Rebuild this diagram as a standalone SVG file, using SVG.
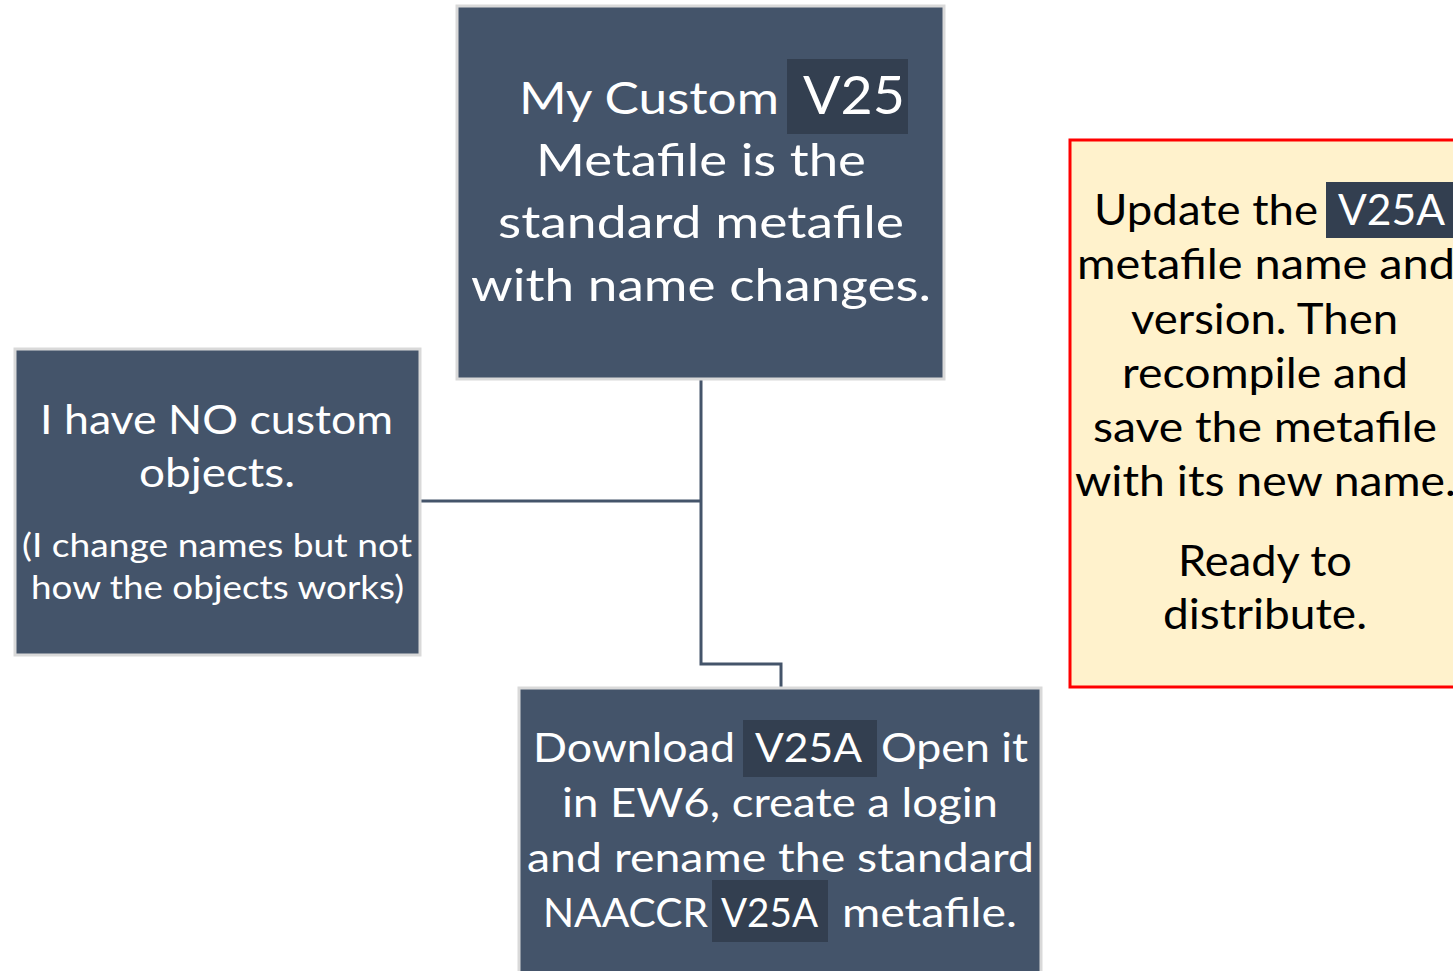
<svg xmlns="http://www.w3.org/2000/svg" width="1453" height="971" viewBox="0 0 1453 971">
<style>
.node{fill:#44546A;stroke:#D9D9D9;stroke-width:3}
.note{fill:#FFF2CC;stroke:#FF0000;stroke-width:3}
.hl{fill:#333F50}
.t{font-family:Lato,"Open Sans","Liberation Sans",sans-serif;fill:#FFFFFF}
.k{font-family:Lato,"Open Sans","Liberation Sans",sans-serif;fill:#000000}
.conn{fill:none;stroke:#44546A;stroke-width:3}
</style>
<rect width="1453" height="971" fill="#FFFFFF"/>
<g id="connectors">
<path class="conn" d="M701,380 V664 H781 V688"/>
<path class="conn" d="M421,501 H701"/>
</g>
<g id="node-top">
<rect class="node" x="457" y="6" width="487" height="373"/>
<rect class="hl" x="787" y="59" width="121" height="75"/>
<text class="t" x="519" y="114" font-size="44" textLength="260" lengthAdjust="spacingAndGlyphs">My Custom</text>
<text class="t" x="803" y="114" font-size="52" textLength="102" lengthAdjust="spacingAndGlyphs">V25</text>
<text class="t" x="536" y="176" font-size="44" textLength="330" lengthAdjust="spacingAndGlyphs">Metafile is the</text>
<text class="t" x="498" y="238" font-size="44" textLength="406" lengthAdjust="spacingAndGlyphs">standard metafile</text>
<text class="t" x="471" y="301" font-size="44" textLength="460" lengthAdjust="spacingAndGlyphs">with name changes.</text>
</g>
<g id="node-left">
<rect class="node" x="15" y="349" width="405" height="306"/>
<text class="t" x="40" y="434" font-size="41" textLength="353" lengthAdjust="spacingAndGlyphs">I have NO custom</text>
<text class="t" x="139" y="487" font-size="41" textLength="156" lengthAdjust="spacingAndGlyphs">objects.</text>
<text class="t" x="22" y="557" font-size="32" textLength="390" lengthAdjust="spacingAndGlyphs">(I change names but not</text>
<text class="t" x="31" y="599" font-size="32" textLength="373" lengthAdjust="spacingAndGlyphs">how the objects works)</text>
</g>
<g id="node-bottom">
<rect class="node" x="519" y="688" width="522" height="300"/>
<rect class="hl" x="743" y="720" width="134" height="57"/>
<rect class="hl" x="712" y="880" width="116" height="62"/>
<text class="t" x="533" y="762" font-size="41" textLength="202" lengthAdjust="spacingAndGlyphs">Download</text>
<text class="t" x="755" y="762" font-size="41" textLength="107" lengthAdjust="spacingAndGlyphs">V25A</text>
<text class="t" x="881" y="762" font-size="41" textLength="147" lengthAdjust="spacingAndGlyphs">Open it</text>
<text class="t" x="562" y="817" font-size="41" textLength="436" lengthAdjust="spacingAndGlyphs">in EW6, create a login</text>
<text class="t" x="527" y="872" font-size="41" textLength="507" lengthAdjust="spacingAndGlyphs">and rename the standard</text>
<text class="t" x="543" y="927" font-size="41" textLength="165" lengthAdjust="spacingAndGlyphs">NAACCR</text>
<text class="t" x="721" y="927" font-size="41" textLength="97" lengthAdjust="spacingAndGlyphs">V25A</text>
<text class="t" x="842" y="927" font-size="41" textLength="175" lengthAdjust="spacingAndGlyphs">metafile.</text>
</g>
<g id="node-right">
<rect class="note" x="1070" y="140" width="400" height="547"/>
<rect class="hl" x="1326" y="182" width="127" height="56"/>
<text class="k" x="1094" y="225" font-size="42" textLength="224" lengthAdjust="spacingAndGlyphs">Update the</text>
<text class="t" x="1338" y="225" font-size="42" textLength="107" lengthAdjust="spacingAndGlyphs">V25A</text>
<text class="k" x="1077" y="279" font-size="42" textLength="378" lengthAdjust="spacingAndGlyphs">metafile name and</text>
<text class="k" x="1131" y="334" font-size="42" textLength="267" lengthAdjust="spacingAndGlyphs">version. Then</text>
<text class="k" x="1122" y="388" font-size="42" textLength="286" lengthAdjust="spacingAndGlyphs">recompile and</text>
<text class="k" x="1093" y="442" font-size="42" textLength="344" lengthAdjust="spacingAndGlyphs">save the metafile</text>
<text class="k" x="1075" y="496" font-size="42" textLength="381" lengthAdjust="spacingAndGlyphs">with its new name.</text>
<text class="k" x="1178" y="576" font-size="42" textLength="174" lengthAdjust="spacingAndGlyphs">Ready to</text>
<text class="k" x="1163" y="629" font-size="42" textLength="204" lengthAdjust="spacingAndGlyphs">distribute.</text>
</g>
</svg>
